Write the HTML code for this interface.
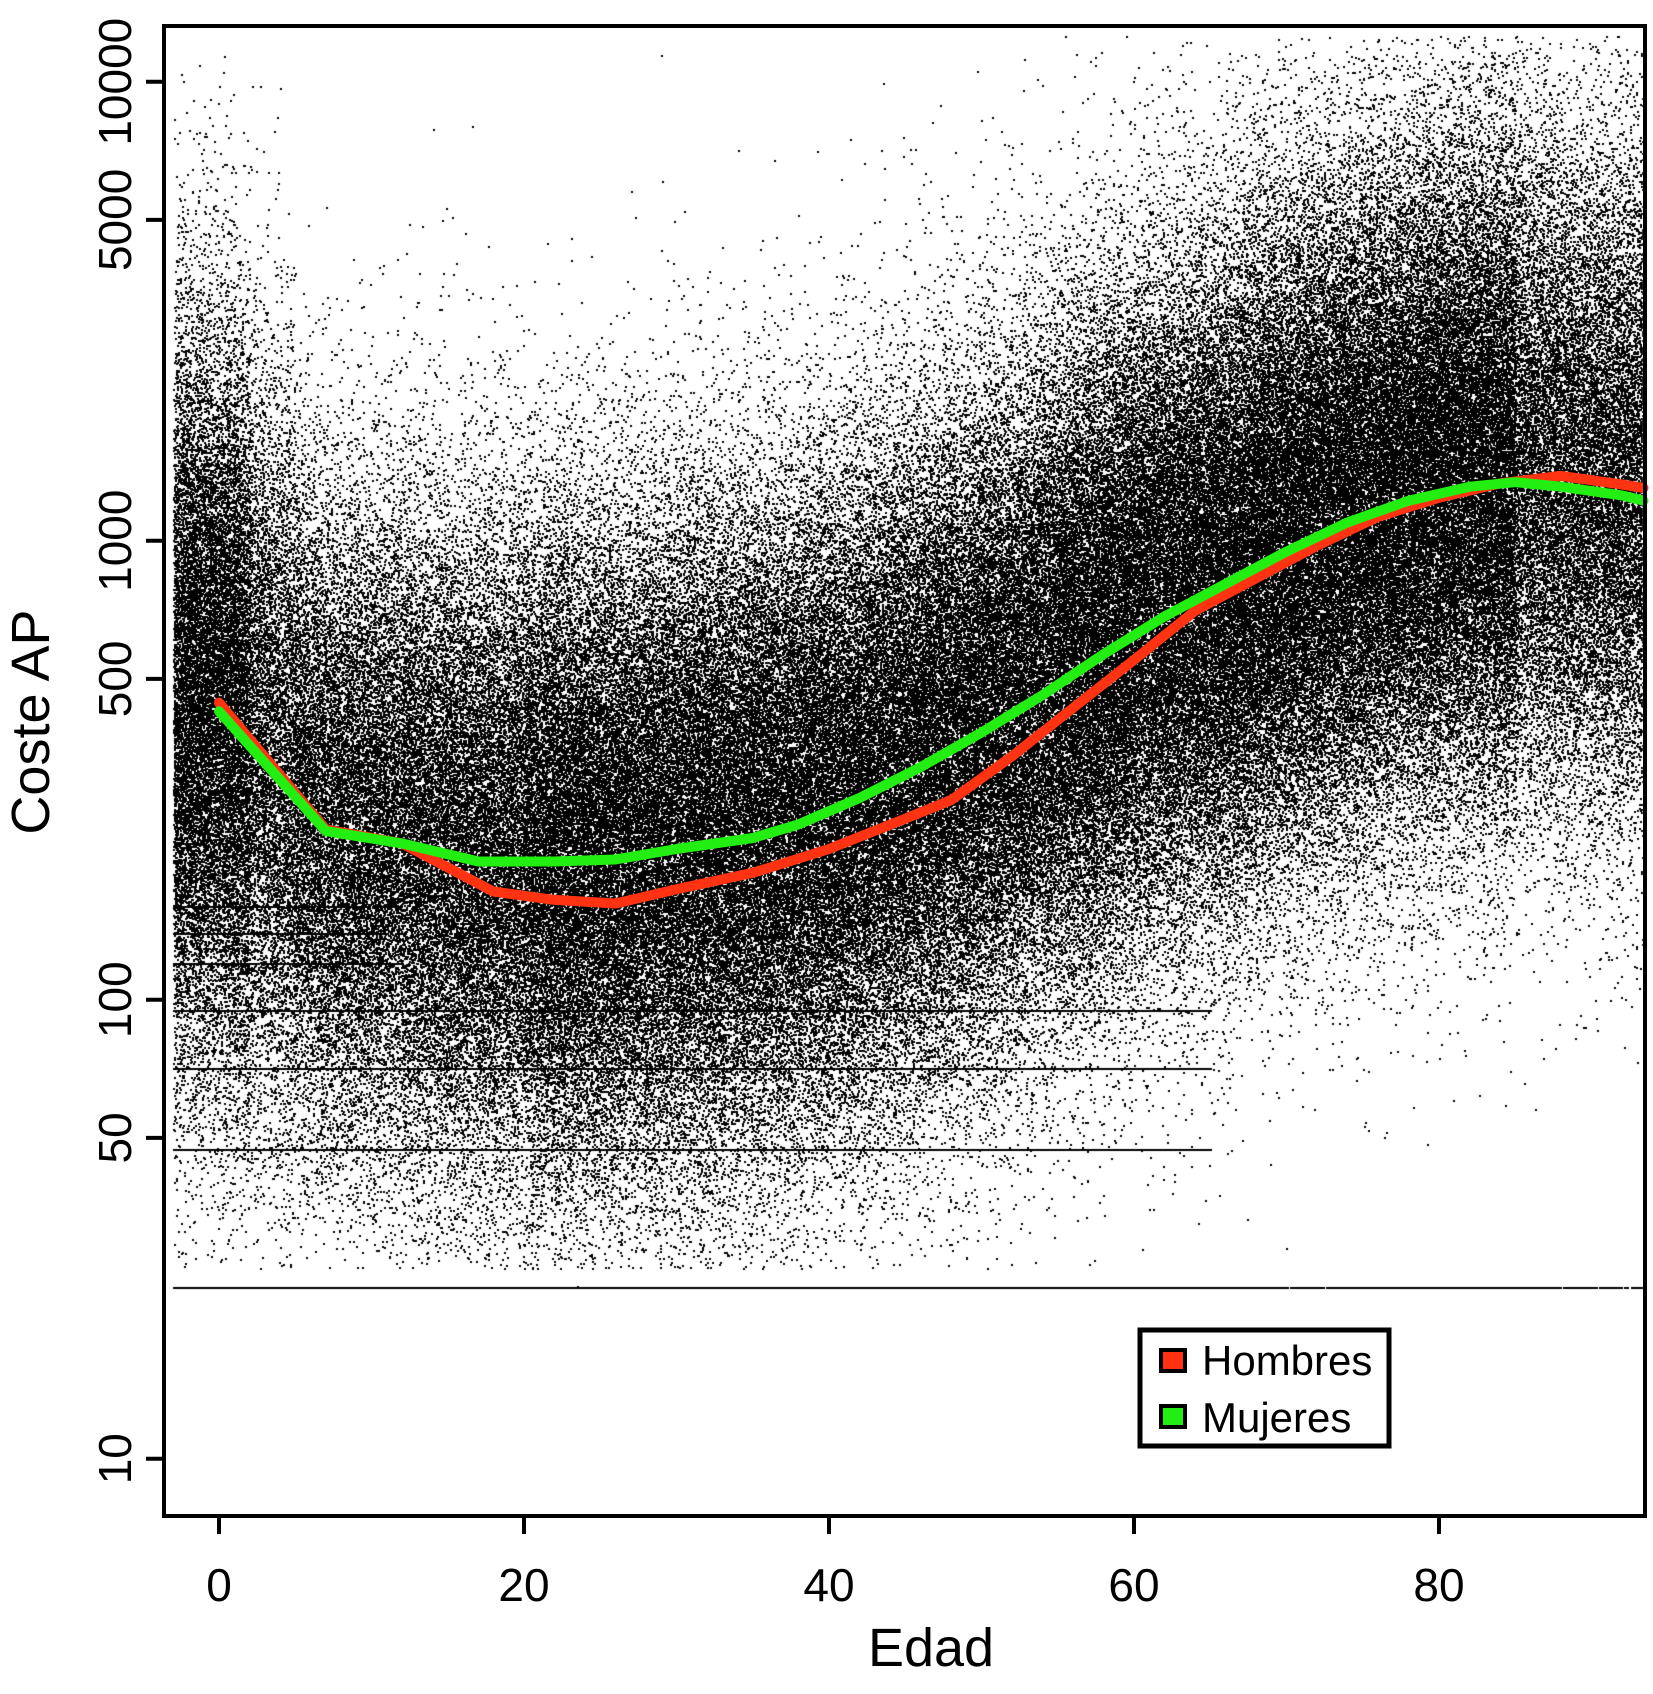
<!DOCTYPE html>
<html><head><meta charset="utf-8">
<style>
html,body{margin:0;padding:0;background:#fff;}
#wrap{position:relative;width:1653px;height:1694px;overflow:hidden;}
canvas,svg{position:absolute;left:0;top:0;}
text{font-family:"Liberation Sans",Arial,sans-serif;fill:#000;}
</style></head>
<body>
<div id="wrap">
<canvas id="cv" width="1653" height="1694"></canvas>
<svg id="sv" width="1653" height="1694" xmlns="http://www.w3.org/2000/svg"></svg>
</div>
<script>
// ---- data ----
const hombresAges = [0,7,12,18,22,26,30,35,40,45,48,52,56,60,64,68,72,76,80,84,88,92,94.5];
const hombresCost = [444,235,219,172,165,162,174,189,213,248,272,339,432,550,703,828,975,1127,1241,1333,1384,1326,1303];
const mujeresAges = [0,7,12,17,22,26,30,35,38,42,46,50,54,58,62,66,70,74,78,82,85,88,92,94.5];
const mujeresCost = [425,233,219,200,200,202,213,225,241,275,321,382,461,566,684,805,947,1096,1222,1311,1341,1311,1255,1222];
const xTicks = [0,20,40,60,80];
const yTicks = [10,50,100,500,1000,5000,10000];
const floorLines = [23.7,47.2,71,95,120,140,160];

// ---- geometry ----
const L=164, R=1645, T=26, B=1516;
const X0=219, PXA=15.25;
const Y10=1458.7, DEC=459;
function sx(a){return X0+a*PXA;}
function sy(v){return Y10-(Math.log10(v)-1)*DEC;}
const ageMin=(L-X0)/PXA, ageMax=(R-X0)/PXA;

// ---- scatter cloud (decorative density texture) ----
const cv=document.getElementById('cv'), ctx=cv.getContext('2d');
let s=12345;
function rnd(){s|=0;s=s+0x6D2B79F5|0;let t=Math.imul(s^s>>>15,1|s);t=t+Math.imul(t^t>>>7,61|t)^t;return((t^t>>>14)>>>0)/4294967296;}
function nrm(){return Math.sqrt(-2*Math.log(rnd()+1e-12))*Math.cos(2*Math.PI*rnd());}
function interp(xs,ys,a){
  if(a<=xs[0])return Math.log10(ys[0]);
  for(let i=1;i<xs.length;i++){if(a<=xs[i]){const f=(a-xs[i-1])/(xs[i]-xs[i-1]);return Math.log10(ys[i-1])*(1-f)+Math.log10(ys[i])*f;}}
  return Math.log10(ys[ys.length-1]);
}
function ageW(a){if(a<2)return 1.3;if(a<20)return 0.8;if(a<55)return 1.0;if(a<85)return 1.1;return 0.7;}
ctx.save();ctx.beginPath();ctx.rect(L+2,T+2,R-L-4,B-T-4);ctx.clip();
ctx.fillStyle='#000';
let n=0;
while(n<320000){
  const a=ageMin+0.6+rnd()*(ageMax-ageMin-0.6);
  if(rnd()*1.6>ageW(a))continue;
  n++;
  const mu=interp(mujeresAges,mujeresCost,a)+0.03;
  const sd=a<5?0.42:0.37;
  let lv=mu+nrm()*sd;
  if(a<65 && rnd()<0.05){lv=Math.log10(floorLines[Math.floor(rnd()*4)]);}
  else if(a<12 && rnd()<0.08){lv=Math.log10(floorLines[Math.floor(rnd()*floorLines.length)]);}
  else if(rnd()<0.01){lv=Math.log10(floorLines[0]);}
  if(lv<Math.log10(26) && Math.abs(lv-Math.log10(floorLines[0]))>0.001)continue;
  if(lv>4.1)continue;
  ctx.fillRect(Math.round(sx(a)),Math.round(sy(Math.pow(10,lv))),2,2);
}
ctx.restore();

// ---- svg ----
const sv=document.getElementById('sv'), NS='http://www.w3.org/2000/svg';
function mk(tag,attrs,parent){const e=document.createElementNS(NS,tag);for(const k in attrs)e.setAttribute(k,attrs[k]);(parent||sv).appendChild(e);return e;}

function linePath(xs,ys){
  let d='';for(let i=0;i<xs.length;i++){const a=Math.min(xs[i],ageMax-0.1);d+=(i?'L':'M')+sx(a).toFixed(1)+','+sy(ys[i]).toFixed(1);}return d;
}
const red=mk('path',{d:linePath(hombresAges,hombresCost),fill:'none',stroke:'#ff3311','stroke-width':10,'stroke-linejoin':'round','stroke-linecap':'round'});


const green=mk('path',{d:linePath(mujeresAges,mujeresCost),fill:'none',stroke:'#22ee11','stroke-width':10,'stroke-linejoin':'round','stroke-linecap':'round'});



const box=mk('rect',{x:L,y:T,width:R-L,height:B-T,fill:'none',stroke:'#000','stroke-width':4});



xTicks.forEach(v=>{
  const t=mk('line',{x1:sx(v),x2:sx(v),y1:B,y2:B+18,stroke:'#000','stroke-width':4});
  
  
  const l=mk('text',{x:sx(v),y:1601,'font-size':46,'text-anchor':'middle'});
  l.textContent=v;
  
  
});
yTicks.forEach(v=>{
  const y=sy(v);
  const t=mk('line',{x1:L-18,x2:L,y1:y,y2:y,stroke:'#000','stroke-width':4});
  
  
  const l=mk('text',{x:0,y:0,'font-size':46,'text-anchor':'middle',transform:'translate(131,'+y+') rotate(-90)'});
  l.textContent=v;
  
  
});
const xt=mk('text',{x:931,y:1666,'font-size':54,'text-anchor':'middle'});
xt.textContent='Edad';


const yt=mk('text',{x:0,y:0,'font-size':54,'text-anchor':'middle',transform:'translate(49,722) rotate(-90)'});
yt.textContent='Coste AP';



// legend
const lg=mk('g',{});


mk('rect',{x:1140,y:1330,width:249,height:116,fill:'#fff',stroke:'#000','stroke-width':5},lg);
const e1=mk('g',{},lg);


mk('rect',{x:1161,y:1350,width:24,height:21,fill:'#ff3311',stroke:'#000','stroke-width':4},e1);
const t1=mk('text',{x:1202,y:1375,'font-size':42},e1);t1.textContent='Hombres';
const e2=mk('g',{},lg);


mk('rect',{x:1161,y:1406,width:24,height:21,fill:'#22ee11',stroke:'#000','stroke-width':4},e2);
const t2=mk('text',{x:1202,y:1432,'font-size':42},e2);t2.textContent='Mujeres';
</script>
</body></html>
